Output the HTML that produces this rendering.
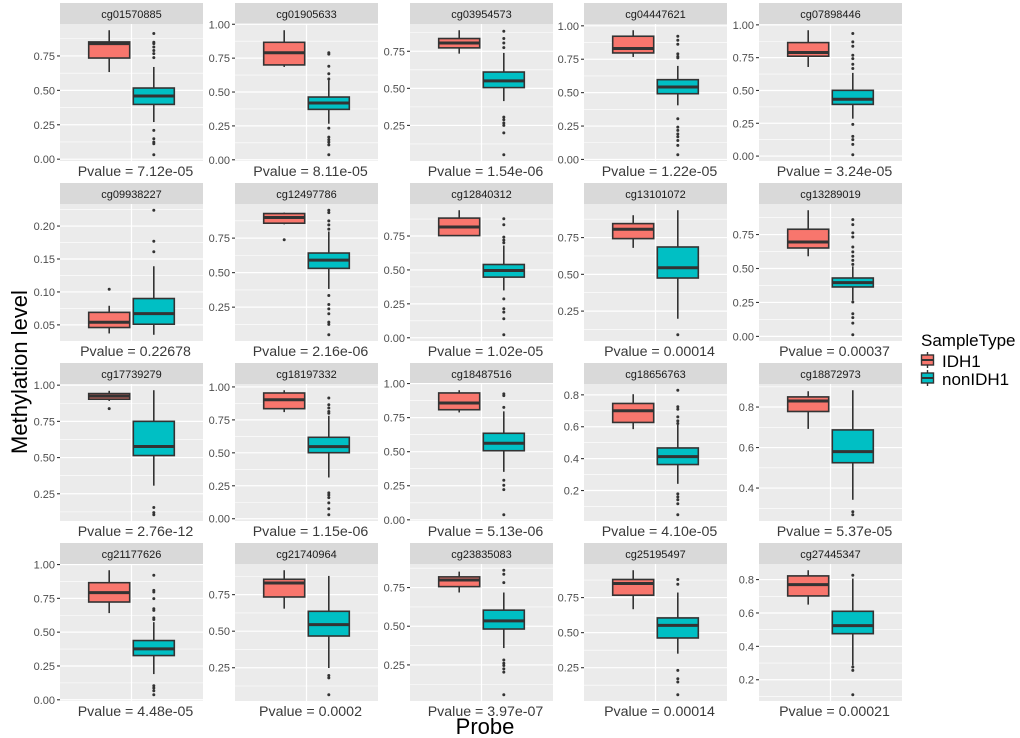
<!DOCTYPE html>
<html><head><meta charset="utf-8"><style>
body{margin:0;background:#fff;}
svg{display:block;font-family:"Liberation Sans",Arial,sans-serif;}
</style></head><body>
<svg id="chart" width="1020" height="738" viewBox="0 0 1020 738" xmlns="http://www.w3.org/2000/svg">
<rect x="0" y="0" width="1020" height="738" fill="#fff"/>
<text x="0" y="0" transform="translate(27,372) rotate(-90)" text-anchor="middle" font-size="22" fill="#000">Methylation level</text>
<text x="485" y="734" text-anchor="middle" font-size="22" fill="#000">Probe</text>
<g>
<text x="921" y="346" font-size="17" fill="#000">SampleType</text>
<g>
<line x1="927.5" y1="352" x2="927.5" y2="368" stroke="#333" stroke-width="1.4"/>
<rect x="921.5" y="355" width="12" height="10" fill="#F8766D" stroke="#333" stroke-width="1.4"/>
<line x1="921.5" y1="360" x2="933.5" y2="360" stroke="#333" stroke-width="2"/>
<text x="942" y="367" font-size="17" fill="#000">IDH1</text></g>
<g>
<line x1="927.5" y1="370" x2="927.5" y2="386" stroke="#333" stroke-width="1.4"/>
<rect x="921.5" y="373" width="12" height="10" fill="#00BFC4" stroke="#333" stroke-width="1.4"/>
<line x1="921.5" y1="378" x2="933.5" y2="378" stroke="#333" stroke-width="2"/>
<text x="942" y="385" font-size="17" fill="#000">nonIDH1</text></g>
</g>
<g id="panels"></g>
</svg>
<script>
const probes = ["cg01570885","cg01905633","cg03954573","cg04447621","cg07898446","cg09938227","cg12497786","cg12840312","cg13101072","cg13289019","cg17739279","cg18197332","cg18487516","cg18656763","cg18872973","cg21177626","cg21740964","cg23835083","cg25195497","cg27445347"];
const pvalues = ["7.12e-05","8.11e-05","1.54e-06","1.22e-05","3.24e-05","0.22678","2.16e-06","1.02e-05","0.00014","0.00037","2.76e-12","1.15e-06","5.13e-06","4.10e-05","5.37e-05","4.48e-05","0.0002","3.97e-07","0.00014","0.00021"];
// [lower whisker, q1, median, q3, upper whisker]
const idh1Stats = [[0.633,0.735,0.84,0.852,0.937],[0.685,0.70,0.79,0.867,0.956],[0.734,0.773,0.806,0.836,0.892],[0.767,0.797,0.83,0.922,0.967],[0.679,0.761,0.789,0.865,0.959],
[0.037,0.046,0.054,0.069,0.079],[0.85,0.858,0.899,0.928,0.935],[0.753,0.753,0.816,0.882,0.94],[0.68,0.743,0.807,0.845,0.902],[0.59,0.651,0.695,0.789,0.929],
[0.891,0.903,0.924,0.942,0.961],[0.809,0.835,0.903,0.954,0.975],[0.788,0.808,0.857,0.931,0.951],[0.585,0.627,0.70,0.746,0.804],[0.692,0.778,0.83,0.85,0.878],
[0.641,0.723,0.792,0.866,0.958],[0.654,0.734,0.83,0.855,0.917],[0.718,0.756,0.799,0.819,0.853],[0.667,0.767,0.85,0.879,0.945],[0.65,0.702,0.77,0.822,0.856]];
const nonStats = [[0.27,0.398,0.459,0.517,0.67],[0.266,0.372,0.419,0.463,0.586],[0.414,0.505,0.55,0.61,0.739],[0.405,0.492,0.542,0.597,0.70],[0.285,0.394,0.433,0.501,0.634],
[0.035,0.051,0.067,0.09,0.139],[0.382,0.531,0.591,0.642,0.798],[0.349,0.447,0.496,0.54,0.68],[0.198,0.475,0.545,0.686,0.936],[0.265,0.364,0.396,0.43,0.516],
[0.306,0.514,0.576,0.75,0.965],[0.313,0.501,0.547,0.618,0.781],[0.352,0.507,0.562,0.635,0.796],[0.242,0.363,0.413,0.467,0.613],[0.342,0.525,0.58,0.687,0.883],
[0.19,0.327,0.376,0.438,0.574],[0.248,0.467,0.545,0.636,0.878],[0.359,0.482,0.535,0.604,0.718],[0.35,0.462,0.552,0.605,0.786],[0.286,0.476,0.524,0.61,0.806]];
const idh1Out = [[],[],[],[],[],[0.104],[0.738],[],[],[],[0.838],[],[],[],[],[],[],[],[],[]];
const nonOut = [[0.913,0.85,0.84,0.815,0.79,0.767,0.738,0.209,0.148,0.124,0.112,0.032],
[0.79,0.78,0.69,0.635,0.596,0.234,0.167,0.148,0.13,0.11,0.037],
[0.885,0.836,0.806,0.775,0.306,0.288,0.266,0.25,0.2,0.052],
[0.922,0.892,0.862,0.79,0.77,0.76,0.305,0.242,0.218,0.19,0.17,0.142,0.105,0.035],
[0.934,0.87,0.837,0.768,0.743,0.70,0.667,0.242,0.15,0.125,0.089,0.01],
[0.224,0.177,0.161],
[0.952,0.935,0.875,0.846,0.815,0.334,0.269,0.238,0.202,0.142,0.125,0.05],
[0.877,0.833,0.742,0.72,0.70,0.287,0.214,0.189,0.14,0.022],
[0.089],
[0.86,0.823,0.762,0.732,0.658,0.622,0.59,0.56,0.53,0.253,0.167,0.138,0.098,0.012],
[0.155,0.12,0.105],
[0.916,0.865,0.84,0.814,0.80,0.196,0.18,0.16,0.12,0.076,0.03],
[0.924,0.911,0.825,0.29,0.254,0.222,0.037],
[0.829,0.725,0.71,0.662,0.637,0.62,0.179,0.16,0.142,0.117,0.048],
[0.283,0.268],
[0.921,0.809,0.797,0.748,0.673,0.661,0.606,0.594,0.104,0.087,0.067,0.037],
[0.197,0.181,0.065],
[0.862,0.836,0.782,0.282,0.261,0.246,0.224,0.203,0.057],
[0.879,0.845,0.231,0.171,0.148,0.057],
[0.826,0.276,0.256,0.11]];
const tickLabels = [["0.00","0.25","0.50","0.75"],["0.00","0.25","0.50","0.75","1.00"],["0.25","0.50","0.75"],["0.00","0.25","0.50","0.75","1.00"],["0.00","0.25","0.50","0.75","1.00"],
["0.05","0.10","0.15","0.20"],["0.25","0.50","0.75"],["0.00","0.25","0.50","0.75"],["0.25","0.50","0.75"],["0.00","0.25","0.50","0.75"],
["0.25","0.50","0.75","1.00"],["0.00","0.25","0.50","0.75","1.00"],["0.00","0.25","0.50","0.75","1.00"],["0.2","0.4","0.6","0.8"],["0.4","0.6","0.8"],
["0.00","0.25","0.50","0.75","1.00"],["0.25","0.50","0.75"],["0.25","0.50","0.75"],["0.25","0.50","0.75"],["0.2","0.4","0.6","0.8"]];

const NS="http://www.w3.org/2000/svg";
const root=document.getElementById('panels');
function mk(tag,attrs,parent){const e=document.createElementNS(NS,tag);for(const k in attrs)e.setAttribute(k,attrs[k]);parent.appendChild(e);return e;}
const colLeft=[60,235,410,584,759], rowTop=[3,183,363,543], PW=143, PH=137, SH=21;
const fills=["#F8766D","#00BFC4"];
probes.forEach((p,i)=>{
  const L=colLeft[i%5], T=rowTop[Math.floor(i/5)], top=T+SH, bot=top+PH;
  const g=mk('g',{},root);
  
  
  const all=[...idh1Stats[i],...nonStats[i],...idh1Out[i],...nonOut[i]];
  let mn=Math.min(...all), mx=Math.max(...all), pad=(mx-mn)*0.05; mn-=pad; mx+=pad;
  const y=v=>bot-(v-mn)/(mx-mn)*PH;
  const xc=L+PW/2;
  mk('rect',{x:L,y:top,width:PW,height:PH,fill:'#EBEBEB'},g);
  const strip=mk('rect',{x:L,y:T,width:PW,height:SH,fill:'#D9D9D9'},g);
  
  
  const st=mk('text',{x:xc,y:T+15,'text-anchor':'middle','font-size':11,fill:'#1A1A1A'},g); st.textContent=p;
  
  
  const tv=tickLabels[i].map(Number), step=tv[1]-tv[0];
  for(let k=-1;k<tv.length;k++){const mv=tv[0]+step*(k+0.5); if(mv>mn&&mv<mx) mk('line',{x1:L,x2:L+PW,y1:y(mv),y2:y(mv),stroke:'#fff','stroke-width':0.6},g);}
  tickLabels[i].forEach((t,k)=>{const yy=y(tv[k]);
    mk('line',{x1:L,x2:L+PW,y1:yy,y2:yy,stroke:'#fff','stroke-width':1.2},g);
    mk('line',{x1:L-3,x2:L,y1:yy,y2:yy,stroke:'#333','stroke-width':1.1},g);
    const tl=mk('text',{x:L-5,y:yy+4,'text-anchor':'end','font-size':11,fill:'#4D4D4D'},g); tl.textContent=t;
    
    
  });
  mk('line',{x1:xc,x2:xc,y1:top,y2:bot,stroke:'#fff','stroke-width':1.2},g);
  [idh1Stats[i],nonStats[i]].forEach((s,j)=>{
    const cx=xc+(j===0?-22.3:22.3), bw=41;
    const bg=mk('g',{},g);
    
    
    mk('line',{x1:cx,x2:cx,y1:y(s[0]),y2:y(s[4]),stroke:'#333','stroke-width':1.6},bg);
    mk('rect',{x:cx-bw/2,y:y(s[3]),width:bw,height:Math.max(0.5,y(s[1])-y(s[3])),fill:fills[j],stroke:'#333','stroke-width':1.6},bg);
    mk('line',{x1:cx-bw/2,x2:cx+bw/2,y1:y(s[2]),y2:y(s[2]),stroke:'#333','stroke-width':3},bg);
    (j===0?idh1Out[i]:nonOut[i]).forEach(o=>{const c=mk('circle',{cx:cx,cy:y(o),r:1.5,fill:'#333'},bg);
      
      });
  });
  const pv=mk('text',{x:xc+4,y:bot+15,'text-anchor':'middle','font-size':14.2,fill:'#3a3a3a'},g); pv.textContent='Pvalue = '+pvalues[i];
  
  
});
</script>
</body></html>
